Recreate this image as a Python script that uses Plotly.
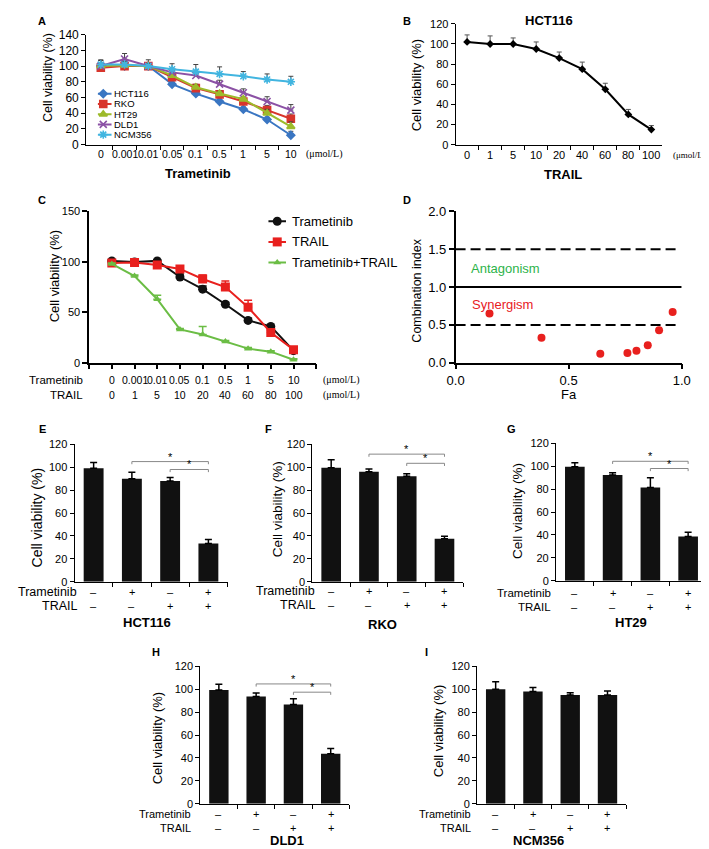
import plotly.graph_objects as go

W, H = 709, 849
SANS = "Liberation Sans, Arial, Helvetica, sans-serif"
SERIF = "Liberation Serif, Times New Roman, serif"

# ---------------- data ----------------
# Panel A: trametinib dose response of five cell lines
a_doses = ["0", "0.001", "0.01", "0.05", "0.1", "0.5", "1", "5", "10"]
a_names = ["HCT116", "RKO", "HT29", "DLD1", "NCM356"]
a_hct116 = [100, 100, 100, 77, 65, 55, 45, 32, 12]
a_rko = [98, 100, 100, 86, 72, 64, 55, 44, 33]
a_ht29 = [100, 101, 100, 88, 73, 65, 58, 40, 23]
a_dld1 = [100, 109, 100, 92, 88, 77, 66, 55, 44]
a_ncm356 = [102, 102, 100, 96, 93, 90, 87, 83, 80]
a_hct116_err = [8, 3, 3, 3, 3, 3, 3, 3, 5]
a_rko_err = [9, 3, 8, 3, 5, 4, 4, 6, 6]
a_ht29_err = [3, 3, 3, 3, 3, 3, 3, 5, 6]
a_dld1_err = [3, 7, 3, 4, 4, 5, 5, 6, 7]
a_ncm356_err = [5, 4, 3, 7, 9, 9, 6, 7, 7]

# Panel B: TRAIL dose response, HCT116
b_doses = ["0", "1", "5", "10", "20", "40", "60", "80", "100"]
b_hct116 = [102, 100, 100, 95, 86, 75, 55, 30, 15]
b_err = [7, 8, 6, 7, 6, 7, 6, 5, 4]

# Panel C: combination
c_tram_doses = ["0", "0.001", "0.01", "0.05", "0.1", "0.5", "1", "5", "10"]
c_trail_doses = ["0", "1", "5", "10", "20", "40", "60", "80", "100"]
c_names = ["Trametinib", "TRAIL", "Trametinib+TRAIL"]
c_tram = [101, 100, 101, 85, 73, 58, 42, 36, 12]
c_trail = [99, 99.5, 97, 93, 83, 75, 55, 30, 13]
c_combo = [98, 86, 63, 33, 28, 21, 14, 11, 3]
c_tram_err = [1, 1, 1, 3, 3, 2, 2, 1, 1]
c_trail_err = [1, 1, 1, 2, 4, 6, 7, 2, 1]
c_combo_err = [1, 1, 4, 1, 8, 1, 1, 1, 1]

# Panel D: combination index
d_fa = [0.15, 0.38, 0.64, 0.76, 0.80, 0.85, 0.90, 0.96]
d_ci = [0.65, 0.33, 0.12, 0.13, 0.16, 0.23, 0.43, 0.67]
d_bounds = [1.5, 0.5]
d_additive = [1.0]

# Panels E-I: bar charts
cond_tram = ["–", "+", "–", "+"]
cond_trail = ["–", "–", "+", "+"]
e_vals = [99, 90, 88, 33.5]
e_err = [5, 5.5, 3, 3.5]
f_vals = [99.5, 96, 92, 37.5]
f_err = [7, 2.5, 2.3, 2.3]
g_vals = [99.5, 92.3, 81.4, 38.6]
g_err = [3.5, 2, 8.6, 3.7]
h_vals = [99.4, 93.7, 86.6, 43.7]
h_err = [5, 3, 5, 4.5]
i_vals = [100, 98, 95, 95]
i_err = [6.5, 3.5, 2, 3.5]

# ---------------- helpers ----------------
def px(x):
    return x / W


def py(y):
    return 1 - y / H


def sfx(n):
    return "" if n == 1 else str(n)


layout = dict(
    width=W, height=H, margin=dict(l=0, r=0, t=0, b=0),
    paper_bgcolor="white", plot_bgcolor="rgba(0,0,0,0)",
    showlegend=False, font=dict(family=SANS, color="black"),
)
annotations = []
AXPOS = {}


def add_axes(n, x0, x1, ybot, ytop, xr, yr, xopts=None, yopts=None, lw=1):
    AXPOS[n] = (x0, x1, ybot, ytop, xr, yr)
    base = dict(showgrid=False, zeroline=False, showline=True, linecolor="black",
                linewidth=lw, fixedrange=True)
    xa = dict(base, domain=[px(x0), px(x1)], range=xr, anchor="y" + sfx(n))
    ya = dict(base, domain=[py(ybot), py(ytop)], range=yr, anchor="x" + sfx(n))
    if xopts:
        xa.update(xopts)
    if yopts:
        ya.update(yopts)
    layout["xaxis" + sfx(n)] = xa
    layout["yaxis" + sfx(n)] = ya


def to_data(n, X, Y):
    """Convert a figure pixel position into the data units of subplot n."""
    x0, x1, ybot, ytop, xr, yr = AXPOS[n]
    return (xr[0] + (X - x0) / (x1 - x0) * (xr[1] - xr[0]),
            yr[0] + (ybot - Y) / (ybot - ytop) * (yr[1] - yr[0]))


def ann(text, x, y, size, xanchor="center", yanchor="middle", bold=False, angle=0,
        color="black", family=SANS, xref="paper", yref="paper"):
    """x / y are pixels (from the top-left) when the ref is paper, data values otherwise."""
    if bold:
        text = "<b>" + text + "</b>"
    annotations.append(dict(
        text=text, x=px(x) if xref == "paper" else x, y=py(y) if yref == "paper" else y,
        xref=xref, yref=yref, xanchor=xanchor, yanchor=yanchor, showarrow=False,
        borderpad=0, textangle=angle, font=dict(size=size, color=color, family=family)))


def ytick(size, dtick=None, tickvals=None, ticktext=None, ticklen=4, tw=1):
    d = dict(ticks="outside", ticklen=ticklen, tickwidth=tw, tickcolor="black",
             tickfont=dict(size=size, family=SANS, color="black"))
    if dtick is not None:
        d.update(tickmode="linear", tick0=0, dtick=dtick)
    if tickvals is not None:
        d.update(tickmode="array", tickvals=tickvals)
        if ticktext is not None:
            d["ticktext"] = ticktext
    return d


def legend_rows(n, names, colors, symbols, sizes, x_left, x_right, x_mark, y_first, dy,
                x_text, fsize, mline=None):
    for i, (name, col, sym, ms) in enumerate(zip(names, colors, symbols, sizes)):
        yy = y_first + i * dy
        xa, ya_ = to_data(n, x_left, yy)
        xb, _ = to_data(n, x_right, yy)
        xm, _ = to_data(n, x_mark, yy)
        ax = "x" + sfx(n)
        ay = "y" + sfx(n)
        fig.add_trace(go.Scatter(x=[xa, xb], y=[ya_, ya_], mode="lines", xaxis=ax, yaxis=ay,
                                 line=dict(color=col, width=2), cliponaxis=False))
        mk = dict(symbol=sym, size=ms, color=col)
        if mline:
            mk["line"] = dict(color=col, width=mline)
        fig.add_trace(go.Scatter(x=[xm], y=[ya_], mode="markers", xaxis=ax, yaxis=ay,
                                 marker=mk, cliponaxis=False))
        ann(name, x_text, yy, fsize, xanchor="left")


fig = go.Figure()

# ---------------- Panel A ----------------
add_axes(1, 71, 290, 132, 20, [-0.615, 8.37], [0, 140],
         xopts=dict(showticklabels=False, ticks="",
                    minor=dict(tickmode="array", tickvals=[k + 0.5 for k in range(8)],
                               ticks="outside", ticklen=4, tickcolor="black")),
         yopts=ytick(12, dtick=20), lw=1)
a_series = [a_hct116, a_rko, a_ht29, a_dld1, a_ncm356]
a_errs = [a_hct116_err, a_rko_err, a_ht29_err, a_dld1_err, a_ncm356_err]
a_colors = ["#3a76c2", "#d8352c", "#9dbb2b", "#8b51a5", "#41b5e0"]
a_symbols = ["diamond", "square", "triangle-up", "x-thin-open", "asterisk-open"]
a_msize = [6, 7, 7, 7, 7]
for vals, errs, col, sym, ms in zip(a_series, a_errs, a_colors, a_symbols, a_msize):
    fig.add_trace(go.Scatter(
        x=list(range(len(a_doses))), y=vals, mode="lines+markers", xaxis="x", yaxis="y",
        line=dict(color=col, width=2),
        marker=dict(symbol=sym, size=ms, color=col, line=dict(color=col, width=1.6)),
        error_y=dict(type="data", symmetric=False, array=errs, arrayminus=[0] * len(errs),
                     color="#444", thickness=1, width=2.5)))
for i, d in enumerate(a_doses):
    ann(d, i, 142, 10.5, xref="x")
legend_rows(1, a_names, a_colors, a_symbols, a_msize, 83, 97, 88.5, 80.2, 10.4, 98, 9.5,
            mline=1.6)
ann("Cell viability (%)", 32, 64, 12.5, angle=-90)
ann("Trametinib", 186, 161, 13, bold=True)
ann("(μmol/L)", 296, 142, 10, xanchor="left", family=SERIF)
ann("A", 26, 6, 11, bold=True)

# ---------------- Panel B ----------------
add_axes(2, 450, 662, 132, 9, [-0.5, 8.47], [0, 120],
         xopts=dict(showticklabels=False, ticks="",
                    minor=dict(tickmode="array", tickvals=[k + 0.5 for k in range(9)],
                               ticks="outside", ticklen=4, tickcolor="black")),
         yopts=ytick(11, dtick=20))
fig.add_trace(go.Scatter(
    x=list(range(len(b_doses))), y=b_hct116, mode="lines+markers", xaxis="x2", yaxis="y2",
    line=dict(color="black", width=2), marker=dict(symbol="diamond", size=6, color="black"),
    error_y=dict(type="data", symmetric=False, array=b_err, arrayminus=[0] * len(b_err),
                 color="#555", thickness=1, width=2.5)))
for i, d in enumerate(b_doses):
    ann(d, i, 143, 11, xref="x2")
ann("HCT116", 546, 6, 13, bold=True)
ann("Cell viability (%)", 410, 72, 13, angle=-90)
ann("TRAIL", 560, 162, 13, bold=True)
ann("(μmol/L)", 708, 143, 9, xanchor="right", family=SERIF)
ann("B", 400, 6, 11, bold=True)

# ---------------- Panel C ----------------
add_axes(3, 74, 307, 354, 200, [-1, 9], [0, 150],
         xopts=dict(showticklabels=False, ticks="",
                    minor=dict(tickmode="array", tickvals=list(range(-1, 10)),
                               ticks="outside", ticklen=5, tickwidth=1.5, tickcolor="black")),
         yopts=ytick(11, tickvals=[0, 50, 100, 150], ticklen=5, tw=1.5), lw=1.5)
c_series = [c_tram, c_trail, c_combo]
c_errs = [c_tram_err, c_trail_err, c_combo_err]
c_colors = ["#111111", "#e8201e", "#6bbd45"]
c_symbols = ["circle", "square", "triangle-up"]
c_msize = [9, 9, 7]
for vals, errs, col, sym, ms in zip(c_series, c_errs, c_colors, c_symbols, c_msize):
    fig.add_trace(go.Scatter(
        x=list(range(len(c_tram_doses))), y=vals, mode="lines+markers", xaxis="x3", yaxis="y3",
        line=dict(color=col, width=2), marker=dict(symbol=sym, size=ms, color=col),
        error_y=dict(type="data", symmetric=False, array=errs, arrayminus=[0] * len(errs),
                     color=col, thickness=1.5, width=4)))
for i, (t, r) in enumerate(zip(c_tram_doses, c_trail_doses)):
    ann(t, i, 372, 10.5, xref="x3")
    ann(r, i, 387, 10.5, xref="x3")
ann("Trametinib", 69, 372, 11.5, xanchor="right")
ann("TRAIL", 69, 387, 11.5, xanchor="right")
ann("(μmol/L)", 313, 372, 10, xanchor="left", family=SERIF)
ann("(μmol/L)", 313, 387, 10, xanchor="left", family=SERIF)
ann("Cell viability (%)", 38, 266, 13, angle=-90)
ann("C", 26, 188, 11, bold=True)
legend_rows(3, c_names, c_colors, c_symbols, c_msize, 258, 276, 267, 210, 21, 281, 13)

# ---------------- Panel D ----------------
add_axes(4, 450, 682, 354, 200, [0, 1], [0, 2],
         xopts=dict(ticks="outside", ticklen=5, tickwidth=1.5, tickcolor="black",
                    tickmode="array", tickvals=[0, 0.5, 1], ticktext=["0.0", "0.5", "1.0"],
                    tickfont=dict(size=13, family=SANS, color="black")),
         yopts=ytick(13, tickvals=[0, 0.5, 1, 1.5, 2], ticktext=["0.0", "0.5", "1.0", "1.5", "2.0"],
                     ticklen=5, tw=1.5), lw=1.5)
for b in d_bounds:
    fig.add_trace(go.Scatter(x=[0, 0.98], y=[b, b], mode="lines", xaxis="x4", yaxis="y4",
                             line=dict(color="black", width=2, dash="10px,5px")))
for b in d_additive:
    fig.add_trace(go.Scatter(x=[0, 1], y=[b, b], mode="lines", xaxis="x4", yaxis="y4",
                             line=dict(color="black", width=2)))
fig.add_trace(go.Scatter(x=d_fa, y=d_ci, mode="markers", xaxis="x4", yaxis="y4",
                         marker=dict(size=8, color="#e8201e")))
ann("Antagonism", 0.065, 1.25, 13, xanchor="left", color="#2db34a", xref="x4", yref="y4")
ann("Synergism", 0.07, 0.77, 13, xanchor="left", color="#e8201e", xref="x4", yref="y4")
ann("Combination index", 410, 281, 12.5, angle=-90)
ann("Fa", 566, 386, 13)
ann("D", 400, 188, 11, bold=True)

# ---------------- Panels E-I ----------------
bar_panels = [
    dict(n=5, vals=e_vals, err=e_err, x0=59, x1=216, yb=577, yt=437, r1=587, r2=602,
         lr=63, ls=12.5, title="HCT116", tx=133, ty=618, ytx=20, yty=511, yts=14,
         sig=[(1, 3, 104.9), (2, 3, 98)], letter="E", lx=26, ly=421),
    dict(n=6, vals=f_vals, err=f_err, x0=303, x1=458, yb=577, yt=437, r1=586, r2=601,
         lr=307, ls=12.5, title="RKO", tx=375, ty=620, ytx=267, yty=503, yts=13.5,
         sig=[(1, 3, 111.4), (2, 3, 103.4)], letter="F", lx=258, ly=421),
    dict(n=7, vals=g_vals, err=g_err, x0=553, x1=708, yb=576, yt=436, r1=588, r2=603,
         lr=549, ls=11.5, title="HT29", tx=630, ty=618, ytx=513, yty=505, yts=13.5,
         sig=[(1, 3, 104.3), (2, 3, 98)], letter="G", lx=507, ly=421),
    dict(n=8, vals=h_vals, err=h_err, x0=188, x1=341, yb=803, yt=663, r1=813, r2=828,
         lr=180, ls=11, title="DLD1", tx=277, ty=840, ytx=145, yty=736, yts=13,
         sig=[(1, 3, 104.6), (2, 3, 97.4)], letter="H", lx=143, ly=648),
    dict(n=9, vals=i_vals, err=i_err, x0=472, x1=625, yb=803, yt=663, r1=813, r2=828,
         lr=467, ls=11, title="NCM356", tx=535, ty=840, ytx=432, yty=729, yts=13,
         sig=[], letter="I", lx=420, ly=648),
]
for p in bar_panels:
    n = p["n"]
    xa, ya = "x" + sfx(n), "y" + sfx(n)
    add_axes(n, p["x0"], p["x1"], p["yb"], p["yt"], [-0.5, 3.5], [0, 120],
             xopts=dict(showticklabels=False, ticks="",
                        minor=dict(tickmode="array", tickvals=[0.5, 1.5, 2.5, 3.5],
                                   ticks="outside", ticklen=4, tickcolor="black")),
             yopts=ytick(11, dtick=20))
    fig.add_trace(go.Bar(
        x=list(range(len(p["vals"]))), y=p["vals"], width=0.52, xaxis=xa, yaxis=ya,
        marker=dict(color="#111111", line=dict(width=0)),
        error_y=dict(type="data", symmetric=False, array=p["err"],
                     arrayminus=[0] * len(p["err"]), color="black", thickness=1.5, width=3.5)))
    for (i0, i1, hgt) in p["sig"]:
        fig.add_trace(go.Scatter(x=[i0, i0, i1, i1], y=[hgt - 2.3, hgt, hgt, hgt - 2.3],
                                 mode="lines", xaxis=xa, yaxis=ya,
                                 line=dict(color="#888888", width=1)))
        annotations.append(dict(text="*", x=(i0 + i1) / 2, y=hgt, xref=xa, yref=ya,
                                xanchor="center", yanchor="bottom", showarrow=False,
                                borderpad=0, yshift=-2,
                                font=dict(size=11, color="black", family=SANS)))
    for i, (t, r) in enumerate(zip(cond_tram, cond_trail)):
        ann(t, i, p["r1"], 11, xref=xa)
        ann(r, i, p["r2"], 11, xref=xa)
    ann("Trametinib", p["lr"], p["r1"], p["ls"], xanchor="right")
    ann("TRAIL", p["lr"], p["r2"], p["ls"], xanchor="right")
    ann(p["title"], p["tx"], p["ty"], 13, bold=True)
    ann("Cell viability (%)", p["ytx"], p["yty"], p["yts"], angle=-90)
    ann(p["letter"], p["lx"], p["ly"], 11, bold=True)

layout["annotations"] = annotations
fig.update_layout(**layout)
fig.write_html("out.html")
